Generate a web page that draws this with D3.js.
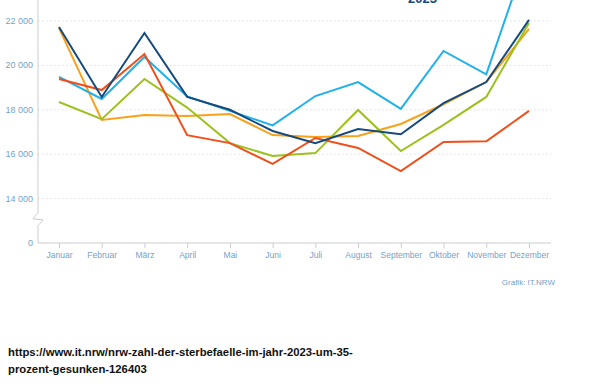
<!DOCTYPE html>
<html>
<head>
<meta charset="utf-8">
<script src="https://cdn.jsdelivr.net/npm/d3@7"></script>
<style>
  body { margin: 0; background: #fff; }
  svg { display: block; }
</style>
</head>
<body>
<div id="chart"></div>
<script>
// months on the x axis
const months = ["Januar", "Februar", "März", "April", "Mai", "Juni", "Juli",
  "August", "September", "Oktober", "November", "Dezember"];

// y ticks (0 is drawn below the axis break)
const yTicks = [14000, 16000, 18000, 20000, 22000];

// one array per year, deaths per month
const names = ["2019", "2020", "2021", "2022", "2023"];
const colors = ["#f9a11b", "#9cc11c", "#1eb1ec", "#f04e1a", "#164a7c"];
const s2019 = [21680, 17540, 17770, 17720, 17810, 16860, 16770, 16820, 17360, 18250, 19250, 21640];
const s2020 = [18350, 17580, 19390, 18100, 16500, 15920, 16050, 17990, 16140, 17320, 18580, 21910];
const s2021 = [19480, 18490, 20380, 18600, 17950, 17300, 18620, 19250, 18040, 20650, 19600, 25200];
const s2022 = [19390, 18890, 20510, 16860, 16500, 15560, 16730, 16280, 15240, 16550, 16580, 17950];
const s2023 = [21730, 18577, 21460, 18580, 18000, 17045, 16500, 17135, 16900, 18300, 19250, 22050];
const series = [s2019, s2020, s2021, s2022, s2023];

const width = 590, height = 384;
const svg = d3.select("#chart").append("svg")
  .attr("width", width)
  .attr("height", height);

const x = d3.scalePoint()
  .domain(months)
  .range([59, 529]);

// 12000 sits where the 0 line is drawn, the axis is broken in between
const y = d3.scaleLinear()
  .domain([12000, 22000])
  .range([243, 21]);

const axisColor = "#c9cdd1";
const labelColor = "#75a2c8";
const font = "'Liberation Sans Narrow', 'Liberation Sans', Arial, sans-serif";

// dotted gridlines
svg.append("g")
  .selectAll("line")
  .data(yTicks)
  .enter()
  .append("line")
    .attr("x1", 38)
    .attr("x2", 551)
    .attr("y1", d => y(d))
    .attr("y2", d => y(d))
    .attr("stroke", "#dcdfe2")
    .attr("stroke-width", 1)
    .attr("stroke-dasharray", "1.5,2.5");

// y labels
svg.append("g")
  .selectAll("text")
  .data(yTicks.concat([12000]))
  .enter()
  .append("text")
    .attr("x", 33)
    .attr("y", d => y(d) + 3)
    .attr("text-anchor", "end")
    .attr("fill", labelColor)
    .style("font-family", font)
    .style("font-size", "9px")
    .text(d => d === 12000 ? "0" : d3.format(",")(d).replace(",", " "));

// y axis with break
const yb = y(13000);
svg.append("path")
  .attr("d", `M38,0 L38,${yb - 8} L33,${yb - 2} L43,${yb - 1} L38,${yb + 5} L38,${y(12000)}`)
  .attr("fill", "none")
  .attr("stroke", axisColor)
  .attr("stroke-width", 1);

// x axis
const xAxis = svg.append("g")
  .attr("transform", `translate(0,${y(12000)})`)
  .call(d3.axisBottom(x).tickSize(5).tickPadding(4));
xAxis.select(".domain")
  .attr("d", "M38,0H551")
  .attr("stroke", axisColor);
xAxis.selectAll(".tick line").attr("stroke", axisColor);
xAxis.selectAll(".tick text")
  .attr("fill", labelColor)
  .style("font-family", font)
  .style("font-size", "8.5px");

// lines
const line = d3.line()
  .x((d, i) => x(months[i]))
  .y(d => y(d));

svg.append("g")
  .selectAll("path")
  .data(series)
  .enter()
  .append("path")
    .attr("d", line)
    .attr("fill", "none")
    .attr("stroke", (d, i) => colors[i])
    .attr("stroke-width", 2)
    .attr("stroke-linejoin", "miter");

// year label, cut off at the top of the picture like in the original
svg.append("text")
  .attr("x", 408)
  .attr("y", 3)
  .attr("fill", colors[4])
  .style("font-family", font)
  .style("font-weight", "bold")
  .style("font-size", "13px")
  .text(names[4]);

// source
svg.append("text")
  .attr("x", 555)
  .attr("y", 285)
  .attr("text-anchor", "end")
  .attr("fill", labelColor)
  .style("font-family", font)
  .style("font-size", "8px")
  .text("Grafik: IT.NRW");

// url below the chart
const url = svg.append("text")
  .attr("x", 8)
  .style("font-family", "'Liberation Sans', Arial, sans-serif")
  .style("font-weight", "bold")
  .style("font-size", "11.3px")
  .attr("fill", "#111");
url.append("tspan").attr("x", 8).attr("y", 356)
  .text("https://www.it.nrw/nrw-zahl-der-sterbefaelle-im-jahr-2023-um-35-");
url.append("tspan").attr("x", 8).attr("y", 373)
  .text("prozent-gesunken-126403");
</script>
</body>
</html>
